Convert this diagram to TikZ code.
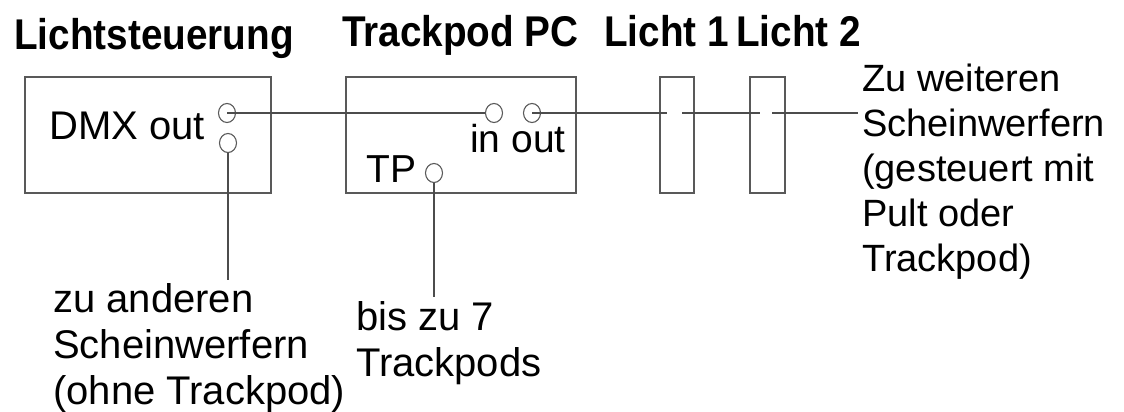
\documentclass[tikz,border=0pt]{standalone}
\usepackage{fontspec}
\setmainfont{Liberation Sans}
\newfontfamily\titlefont{Liberation Sans}[FakeStretch=0.9]
\usetikzlibrary{shapes.geometric}
\begin{document}
\begin{tikzpicture}[x=1pt,y=-1pt,
  box/.style={draw=black!65,line width=1.5pt,rectangle,minimum height=116pt,inner sep=0pt},
  jack/.style={draw=black!65,line width=1.1pt,ellipse,minimum width=17pt,minimum height=19pt,inner sep=0pt},
  wire/.style={draw=black!70,line width=1.5pt},
  title/.style={anchor=base west,inner sep=0pt,font=\titlefont\bfseries\fontsize{43}{50}\selectfont},
  body/.style={anchor=base west,inner sep=0pt,font=\fontsize{40}{46}\selectfont},
  bodyb/.style={anchor=base west,inner sep=0pt,font=\fontsize{39}{46}\selectfont},
  small/.style={anchor=base west,inner sep=0pt,font=\fontsize{38}{45}\selectfont}]
\fill[white] (0,0) rectangle (1124,412);
\useasboundingbox (0,0) rectangle (1124,412);
% titles
\node[title] (t1) at (14,50) {Lichtsteuerung};
\node[title] (t2) at (342,47) {Trackpod PC};
\node[title] (t3) at (604,47) {Licht 1};
\node[title] (t4) at (736,47) {Licht 2};
% boxes
\node[box,minimum width=246pt] (b1) at (148,135) {};
\node[box,minimum width=230pt] (b2) at (461,135) {};
\node[box,minimum width=34pt] (l1) at (677,135) {};
\node[box,minimum width=35pt] (l2) at (767.5,135) {};
% texts in boxes
\node[body] (dmx) at (49,139) {DMX out};
\node[bodyb] (inout) at (470,152) {in out};
\node[bodyb] (tp) at (366,182) {TP};
% jacks
\node[jack] (c1) at (227,113) {};
\node[jack] (c2) at (228,143) {};
\node[jack] (c3) at (494,113) {};
\node[jack] (c4) at (532,113) {};
\node[jack] (c5) at (434,173) {};
% free ends
\coordinate (e1) at (228,280);
\coordinate (e2) at (434,297);
\coordinate (g1) at (667,113);
\coordinate (g2) at (682,113);
\coordinate (g3) at (760,113);
\coordinate (g4) at (772,113);
\coordinate (g5) at (858,113);
% wires
\draw[wire] (c1.center) -- (c3.west);
\draw[wire] (c4.center) -- (g1);
\draw[wire] (g2) -- (g3);
\draw[wire] (g4) -- (g5);
\draw[wire] (c2.south) -- (e1);
\draw[wire] (c5.south) -- (e2);
% outside labels
\node[body] (lab1) at (53,312) {\begin{tabular}[t]{@{}l@{}}zu anderen\\Scheinwerfern\\(ohne Trackpod)\end{tabular}};
\node[body] (lab2) at (356,330) {\begin{tabular}[t]{@{}l@{}}bis zu 7\\Trackpods\end{tabular}};
\node[small] (lab3) at (862,91) {\begin{tabular}[t]{@{}l@{}}Zu weiteren\\Scheinwerfern\\(gesteuert mit\\Pult oder\\Trackpod)\end{tabular}};
\end{tikzpicture}
\end{document}
